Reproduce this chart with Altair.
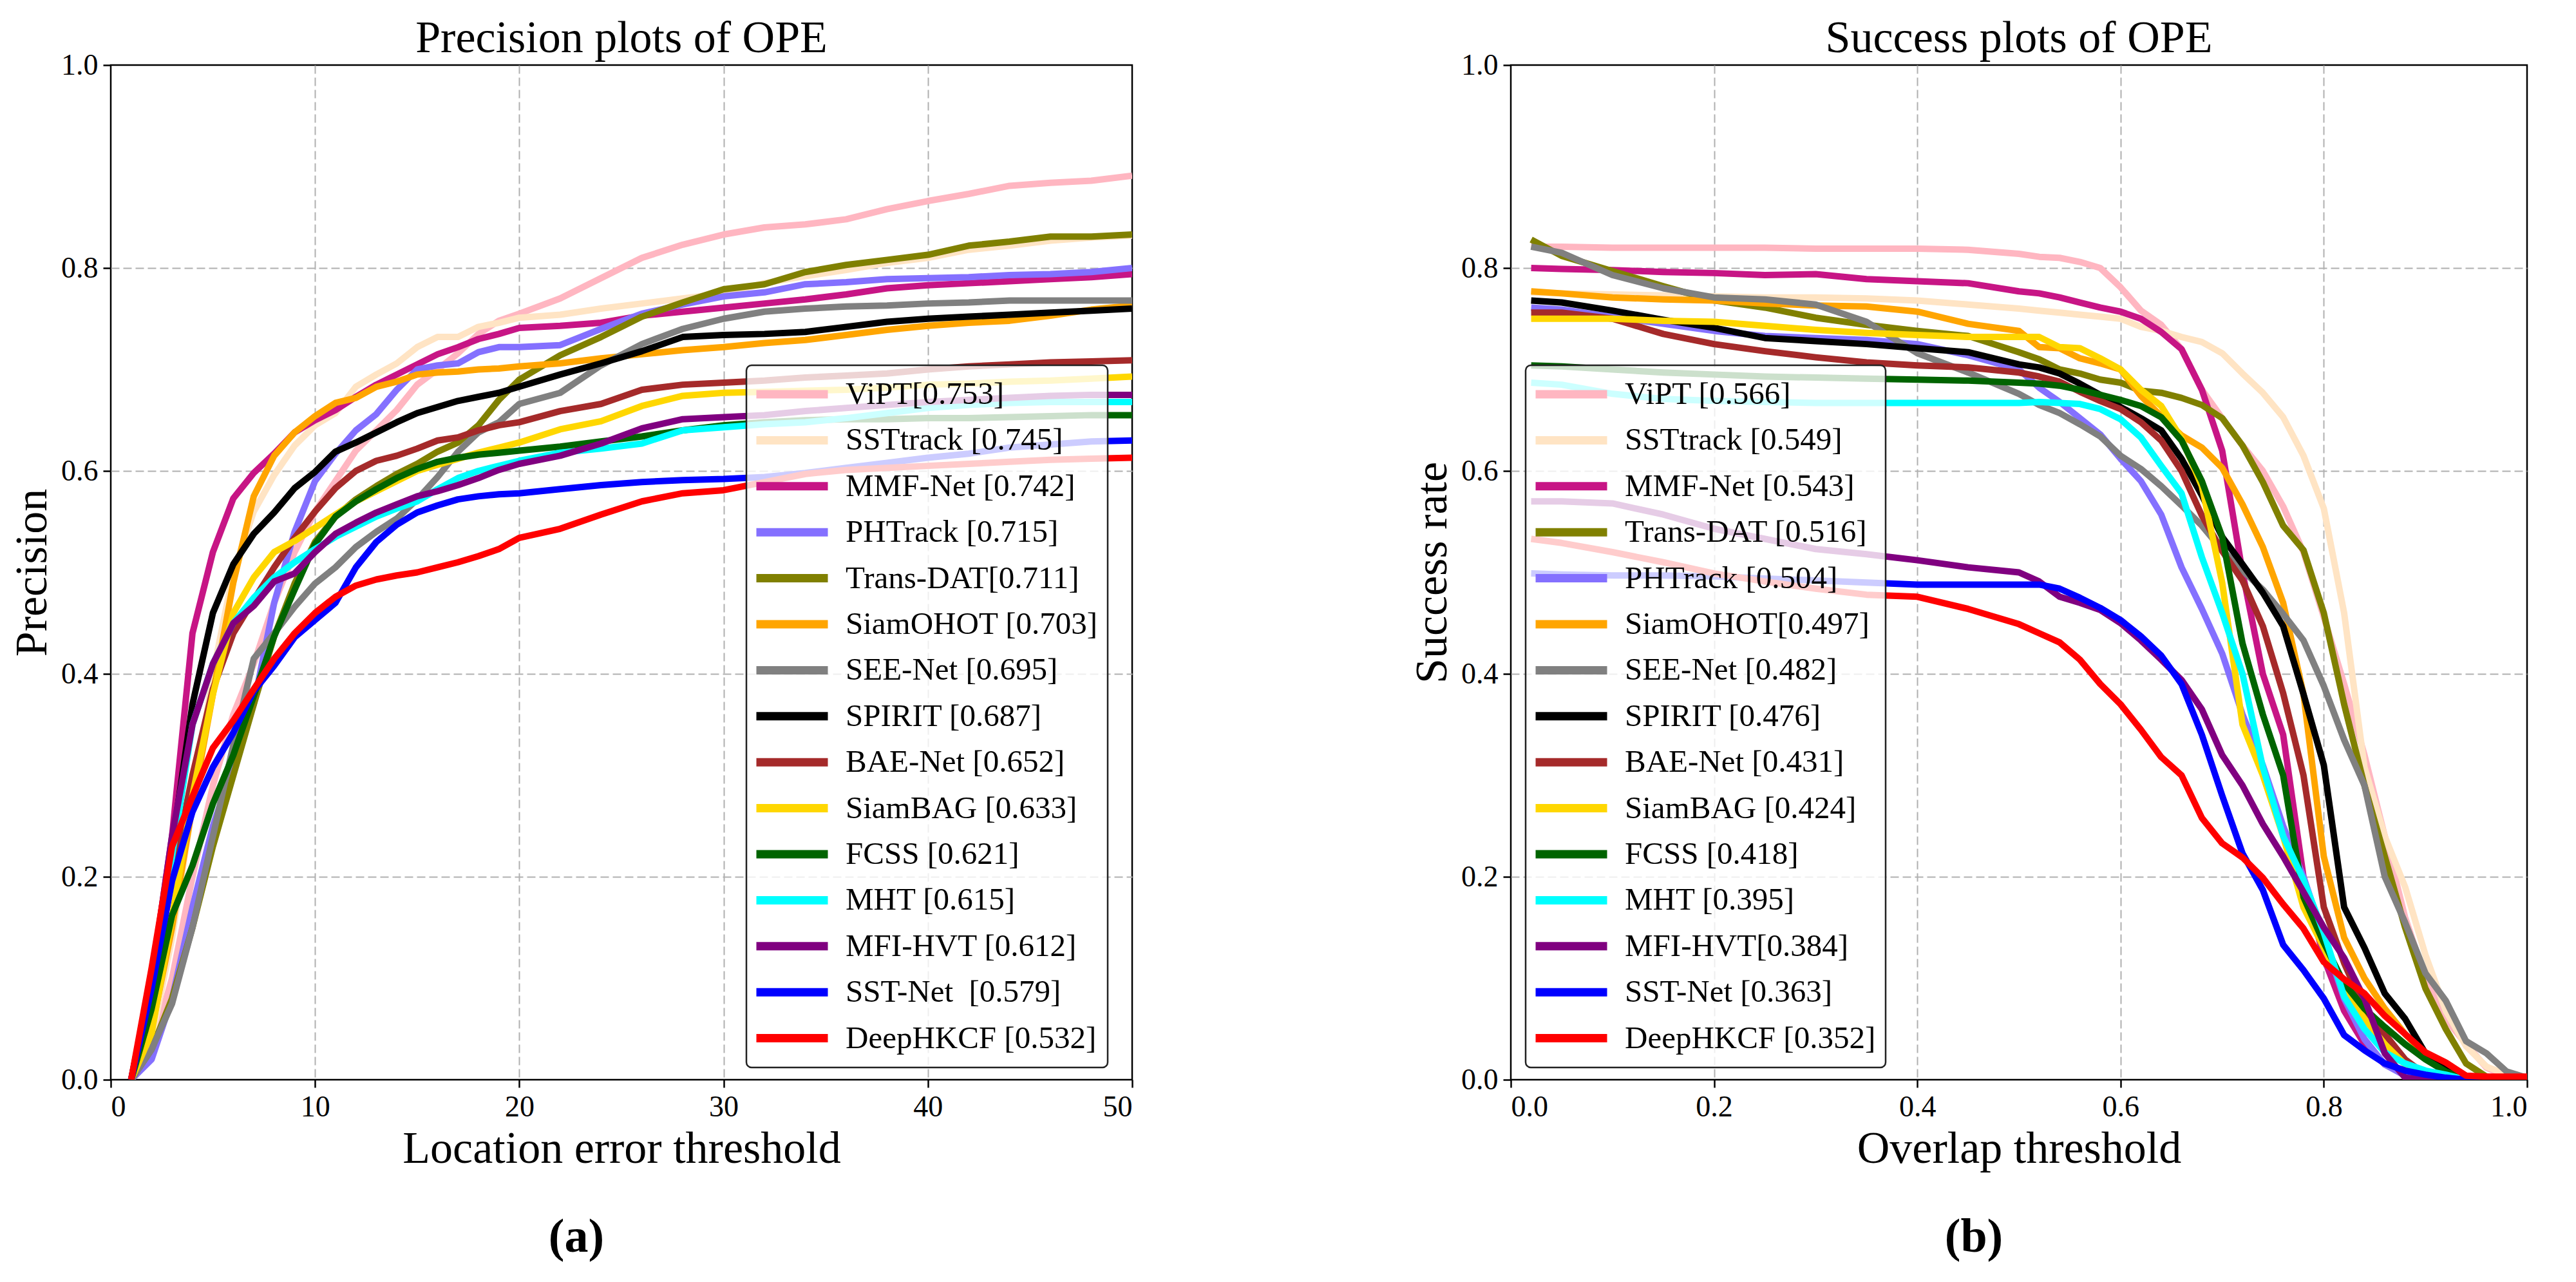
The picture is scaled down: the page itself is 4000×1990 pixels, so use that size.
import altair as alt
import pandas as pd

FONT = "Liberation Serif"

# ---------------- common ----------------
COLOR = {
    "ViPT": "#FFB6C1", "SSTtrack": "#FFE4C4", "MMF-Net": "#C71585", "PHTrack": "#8470FF",
    "Trans-DAT": "#808000", "SiamOHOT": "#FFA500", "SEE-Net": "#808080", "SPIRIT": "#000000",
    "BAE-Net": "#A52A2A", "SiamBAG": "#FFD700", "FCSS": "#006400", "MHT": "#00FFFF",
    "MFI-HVT": "#800080", "SST-Net": "#0000FF", "DeepHKCF": "#FF0000",
}

# ---------------- precision plot ----------------
PREC_ORDER = ["ViPT", "SSTtrack", "MMF-Net", "PHTrack", "Trans-DAT", "SiamOHOT", "SEE-Net",
              "SPIRIT", "BAE-Net", "SiamBAG", "FCSS", "MHT", "MFI-HVT", "SST-Net", "DeepHKCF"]
PREC_LABELS = ["ViPT[0.753]", "SSTtrack [0.745]", "MMF-Net [0.742]", "PHTrack [0.715]",
               "Trans-DAT[0.711]", "SiamOHOT [0.703]", "SEE-Net [0.695]", "SPIRIT [0.687]",
               "BAE-Net [0.652]", "SiamBAG [0.633]", "FCSS [0.621]", "MHT [0.615]",
               "MFI-HVT [0.612]", "SST-Net\u00a0 [0.579]", "DeepHKCF [0.532]"]
PREC_T = [1, 2, 3, 4, 5, 6, 7, 8, 9, 10, 11, 12, 13, 14, 15, 16, 17, 18, 19, 20,
          22, 24, 26, 28, 30, 32, 34, 36, 38, 40, 42, 44, 46, 48, 50]

P_VIPT = [0, 0.03, 0.10, 0.20, 0.29, 0.36, 0.41, 0.47, 0.52, 0.56, 0.59, 0.62, 0.64, 0.66, 0.685, 0.70, 0.716, 0.735, 0.748, 0.755,
          0.77, 0.79, 0.81, 0.823, 0.833, 0.84, 0.843, 0.848, 0.858, 0.866, 0.873, 0.881, 0.884, 0.886, 0.891]
P_SSTT = [0, 0.04, 0.14, 0.27, 0.40, 0.50, 0.56, 0.596, 0.625, 0.645, 0.657, 0.683, 0.695, 0.706, 0.722, 0.732, 0.732, 0.742, 0.746, 0.751,
          0.754, 0.76, 0.765, 0.77, 0.775, 0.785, 0.792, 0.798, 0.805, 0.81, 0.818, 0.822, 0.827, 0.83, 0.832]
P_MMF = [0, 0.10, 0.24, 0.44, 0.52, 0.573, 0.598, 0.617, 0.638, 0.65, 0.66, 0.673, 0.685, 0.695, 0.705, 0.715, 0.722, 0.73, 0.735, 0.741,
         0.743, 0.746, 0.753, 0.757, 0.761, 0.765, 0.769, 0.774, 0.78, 0.783, 0.785, 0.787, 0.789, 0.791, 0.794]
P_PHT = [0, 0.02, 0.08, 0.17, 0.25, 0.31, 0.37, 0.47, 0.54, 0.59, 0.617, 0.64, 0.656, 0.68, 0.70, 0.704, 0.706, 0.717, 0.722, 0.722,
         0.724, 0.74, 0.755, 0.764, 0.772, 0.776, 0.784, 0.786, 0.789, 0.79, 0.791, 0.793, 0.794, 0.796, 0.80]
P_TDAT = [0, 0.03, 0.08, 0.15, 0.23, 0.30, 0.37, 0.437, 0.489, 0.53, 0.555, 0.572, 0.585, 0.597, 0.607, 0.619, 0.628, 0.645, 0.67, 0.69,
          0.714, 0.732, 0.752, 0.766, 0.779, 0.784, 0.796, 0.803, 0.808, 0.813, 0.822, 0.826, 0.831, 0.831, 0.833]
P_OHOT = [0, 0.05, 0.15, 0.27, 0.38, 0.49, 0.575, 0.615, 0.638, 0.654, 0.667, 0.672, 0.683, 0.688, 0.695, 0.697, 0.698, 0.70, 0.701, 0.703,
          0.706, 0.711, 0.715, 0.719, 0.722, 0.726, 0.729, 0.734, 0.739, 0.743, 0.746, 0.748, 0.753, 0.759, 0.763]
P_SEE = [0, 0.03, 0.075, 0.15, 0.24, 0.33, 0.415, 0.44, 0.466, 0.489, 0.505, 0.525, 0.54, 0.553, 0.572, 0.594, 0.619, 0.638, 0.648, 0.666,
         0.677, 0.704, 0.725, 0.74, 0.75, 0.757, 0.76, 0.762, 0.763, 0.765, 0.766, 0.768, 0.768, 0.768, 0.768]
P_SPIRIT = [0, 0.10, 0.23, 0.37, 0.46, 0.508, 0.538, 0.559, 0.583, 0.599, 0.619, 0.628, 0.638, 0.648, 0.657, 0.663, 0.669, 0.673, 0.677, 0.683,
            0.695, 0.706, 0.718, 0.732, 0.734, 0.735, 0.737, 0.742, 0.747, 0.75, 0.752, 0.754, 0.756, 0.758, 0.76]
P_BAE = [0, 0.08, 0.20, 0.30, 0.385, 0.44, 0.473, 0.505, 0.534, 0.56, 0.583, 0.60, 0.61, 0.615, 0.622, 0.63, 0.633, 0.64, 0.645, 0.648,
         0.659, 0.666, 0.68, 0.685, 0.687, 0.689, 0.692, 0.694, 0.696, 0.70, 0.703, 0.705, 0.707, 0.708, 0.709]
P_BAG = [0, 0.046, 0.16, 0.28, 0.38, 0.46, 0.495, 0.52, 0.531, 0.544, 0.557, 0.57, 0.58, 0.59, 0.60, 0.606, 0.612, 0.618, 0.623, 0.628,
         0.641, 0.649, 0.664, 0.674, 0.677, 0.678, 0.679, 0.68, 0.682, 0.685, 0.686, 0.688, 0.689, 0.691, 0.693]
P_FCSS = [0, 0.07, 0.162, 0.211, 0.272, 0.32, 0.378, 0.437, 0.483, 0.528, 0.555, 0.57, 0.582, 0.593, 0.602, 0.609, 0.613, 0.616, 0.618, 0.62,
          0.624, 0.629, 0.634, 0.64, 0.645, 0.648, 0.65, 0.651, 0.651, 0.652, 0.652, 0.653, 0.654, 0.655, 0.655]
P_MHT = [0, 0.10, 0.22, 0.35, 0.41, 0.45, 0.475, 0.495, 0.51, 0.523, 0.535, 0.545, 0.555, 0.563, 0.57, 0.582, 0.593, 0.60, 0.605, 0.61,
         0.618, 0.622, 0.627, 0.64, 0.643, 0.646, 0.648, 0.652, 0.657, 0.662, 0.665, 0.667, 0.668, 0.668, 0.668]
P_MFI = [0, 0.10, 0.24, 0.35, 0.41, 0.45, 0.467, 0.491, 0.499, 0.52, 0.538, 0.549, 0.559, 0.567, 0.575, 0.58, 0.586, 0.593, 0.601, 0.607,
         0.615, 0.627, 0.642, 0.651, 0.653, 0.655, 0.659, 0.662, 0.665, 0.668, 0.67, 0.672, 0.674, 0.675, 0.675]
P_SSTN = [0, 0.09, 0.196, 0.264, 0.308, 0.342, 0.383, 0.408, 0.436, 0.453, 0.47, 0.505, 0.53, 0.547, 0.559, 0.566, 0.572, 0.575, 0.577, 0.578,
          0.582, 0.586, 0.589, 0.591, 0.592, 0.594, 0.598, 0.603, 0.608, 0.613, 0.617, 0.623, 0.626, 0.629, 0.63]
P_DHK = [0, 0.11, 0.23, 0.279, 0.327, 0.354, 0.385, 0.415, 0.44, 0.46, 0.476, 0.487, 0.493, 0.497, 0.50, 0.505, 0.51, 0.516, 0.523, 0.534,
         0.543, 0.557, 0.57, 0.578, 0.581, 0.589, 0.597, 0.601, 0.603, 0.605, 0.607, 0.609, 0.611, 0.612, 0.613]

PREC = {"ViPT": P_VIPT, "SSTtrack": P_SSTT, "MMF-Net": P_MMF, "PHTrack": P_PHT, "Trans-DAT": P_TDAT,
        "SiamOHOT": P_OHOT, "SEE-Net": P_SEE, "SPIRIT": P_SPIRIT, "BAE-Net": P_BAE, "SiamBAG": P_BAG,
        "FCSS": P_FCSS, "MHT": P_MHT, "MFI-HVT": P_MFI, "SST-Net": P_SSTN, "DeepHKCF": P_DHK}

# ---------------- success plot ----------------
SUCC_ORDER = ["ViPT", "SSTtrack", "MMF-Net", "Trans-DAT", "PHTrack", "SiamOHOT", "SEE-Net",
              "SPIRIT", "BAE-Net", "SiamBAG", "FCSS", "MHT", "MFI-HVT", "SST-Net", "DeepHKCF"]
SUCC_LABELS = ["ViPT [0.566]", "SSTtrack [0.549]", "MMF-Net [0.543]", "Trans-DAT [0.516]",
               "PHTrack [0.504]", "SiamOHOT[0.497]", "SEE-Net [0.482]", "SPIRIT [0.476]",
               "BAE-Net [0.431]", "SiamBAG [0.424]", "FCSS [0.418]", "MHT [0.395]",
               "MFI-HVT[0.384]", "SST-Net [0.363]", "DeepHKCF [0.352]"]
SUCC_O = [0.02, 0.05, 0.1, 0.15, 0.2, 0.25, 0.3, 0.35, 0.4, 0.45, 0.5,
          0.52, 0.54, 0.56, 0.58, 0.6, 0.62, 0.64, 0.66, 0.68, 0.7, 0.72, 0.74, 0.76, 0.78,
          0.8, 0.82, 0.84, 0.86, 0.88, 0.9, 0.92, 0.94, 0.96, 0.98, 1.0]

S_VIPT = [0.821, 0.821, 0.82, 0.82, 0.82, 0.82, 0.819, 0.819, 0.819, 0.818, 0.814,
          0.811, 0.81, 0.806, 0.80, 0.781, 0.758, 0.744, 0.72, 0.68, 0.652, 0.625, 0.60, 0.565, 0.52,
          0.456, 0.39, 0.32, 0.24, 0.16, 0.10, 0.06, 0.035, 0.012, 0.003, 0.0]
S_SSTT = [0.776, 0.775, 0.774, 0.773, 0.772, 0.771, 0.771, 0.77, 0.768, 0.764, 0.76,
          0.758, 0.756, 0.754, 0.752, 0.75, 0.742, 0.738, 0.732, 0.727, 0.716, 0.696, 0.677, 0.653, 0.615,
          0.563, 0.46, 0.308, 0.24, 0.19, 0.123, 0.068, 0.033, 0.013, 0.005, 0.002]
S_MMF = [0.80, 0.799, 0.798, 0.796, 0.795, 0.793, 0.794, 0.789, 0.787, 0.785, 0.777,
         0.775, 0.771, 0.766, 0.761, 0.757, 0.75, 0.737, 0.72, 0.68, 0.62, 0.50, 0.40, 0.34, 0.20,
         0.12, 0.068, 0.035, 0.015, 0.005, 0.0, 0.0, 0.0, 0.0, 0.0, 0.0]
S_TDAT = [0.828, 0.812, 0.797, 0.782, 0.768, 0.761, 0.751, 0.744, 0.738, 0.733, 0.717,
          0.71, 0.70, 0.696, 0.69, 0.687, 0.679, 0.677, 0.672, 0.665, 0.652, 0.625, 0.589, 0.546, 0.522,
          0.46, 0.37, 0.29, 0.22, 0.15, 0.09, 0.05, 0.016, 0.003, 0.0, 0.0]
S_PHT = [0.761, 0.759, 0.752, 0.745, 0.738, 0.733, 0.731, 0.729, 0.725, 0.714, 0.70,
         0.682, 0.668, 0.652, 0.636, 0.612, 0.59, 0.557, 0.505, 0.464, 0.42, 0.36, 0.31, 0.25, 0.20,
         0.14, 0.08, 0.04, 0.015, 0.004, 0.0, 0.0, 0.0, 0.0, 0.0, 0.0]
S_OHOT = [0.777, 0.775, 0.771, 0.769, 0.768, 0.765, 0.763, 0.762, 0.757, 0.745, 0.738,
          0.722, 0.721, 0.711, 0.706, 0.70, 0.674, 0.654, 0.635, 0.623, 0.603, 0.567, 0.525, 0.47, 0.38,
          0.22, 0.14, 0.10, 0.07, 0.045, 0.025, 0.01, 0.002, 0.0, 0.0, 0.0]
S_SEE = [0.821, 0.815, 0.793, 0.78, 0.771, 0.769, 0.764, 0.747, 0.716, 0.697, 0.676,
         0.665, 0.657, 0.646, 0.634, 0.615, 0.602, 0.585, 0.566, 0.546, 0.522, 0.502, 0.483, 0.459, 0.433,
         0.388, 0.335, 0.29, 0.20, 0.155, 0.105, 0.078, 0.038, 0.026, 0.008, 0.002]
S_SPIRIT = [0.768, 0.766, 0.758, 0.749, 0.741, 0.731, 0.728, 0.725, 0.721, 0.717, 0.705,
            0.702, 0.696, 0.686, 0.675, 0.663, 0.652, 0.64, 0.612, 0.576, 0.535, 0.508, 0.48, 0.447, 0.38,
            0.31, 0.17, 0.13, 0.085, 0.06, 0.026, 0.012, 0.001, 0.0, 0.0, 0.0]
S_BAE = [0.756, 0.756, 0.75, 0.735, 0.725, 0.718, 0.712, 0.707, 0.704, 0.702, 0.697,
         0.693, 0.688, 0.678, 0.669, 0.661, 0.648, 0.63, 0.60, 0.556, 0.521, 0.492, 0.447, 0.381, 0.30,
         0.17, 0.115, 0.07, 0.045, 0.02, 0.005, 0.0, 0.0, 0.0, 0.0, 0.0]
S_BAG = [0.75, 0.75, 0.75, 0.748, 0.747, 0.743, 0.739, 0.736, 0.734, 0.732, 0.732,
         0.732, 0.722, 0.721, 0.711, 0.70, 0.68, 0.664, 0.632, 0.585, 0.49, 0.35, 0.30, 0.24, 0.17,
         0.13, 0.09, 0.06, 0.035, 0.015, 0.005, 0.0, 0.0, 0.0, 0.0, 0.0]
S_FCSS = [0.704, 0.703, 0.70, 0.697, 0.695, 0.693, 0.692, 0.691, 0.69, 0.689, 0.687,
          0.686, 0.684, 0.68, 0.675, 0.67, 0.664, 0.653, 0.63, 0.59, 0.535, 0.43, 0.36, 0.30, 0.18,
          0.135, 0.095, 0.07, 0.052, 0.035, 0.02, 0.008, 0.001, 0.0, 0.0, 0.0]
S_MHT = [0.687, 0.685, 0.676, 0.671, 0.669, 0.668, 0.667, 0.667, 0.667, 0.667, 0.667,
         0.668, 0.667, 0.666, 0.661, 0.651, 0.633, 0.605, 0.578, 0.515, 0.46, 0.40, 0.308, 0.24, 0.197,
         0.145, 0.082, 0.05, 0.027, 0.016, 0.009, 0.005, 0.0, 0.0, 0.0, 0.0]
S_MFI = [0.57, 0.57, 0.568, 0.557, 0.543, 0.533, 0.523, 0.518, 0.512, 0.505, 0.50,
         0.491, 0.476, 0.47, 0.463, 0.45, 0.433, 0.414, 0.394, 0.365, 0.32, 0.29, 0.252, 0.22, 0.185,
         0.15, 0.12, 0.08, 0.026, 0.002, 0.0, 0.0, 0.0, 0.0, 0.0, 0.0]
S_SSTN = [0.499, 0.498, 0.497, 0.497, 0.496, 0.494, 0.492, 0.49, 0.488, 0.488, 0.488,
          0.488, 0.484, 0.475, 0.465, 0.453, 0.437, 0.418, 0.39, 0.34, 0.28, 0.223, 0.187, 0.133, 0.108,
          0.08, 0.044, 0.029, 0.016, 0.009, 0.005, 0.002, 0.0, 0.0, 0.0, 0.0]
S_DHK = [0.533, 0.529, 0.52, 0.51, 0.499, 0.491, 0.484, 0.478, 0.476, 0.464, 0.449,
         0.44, 0.431, 0.414, 0.39, 0.37, 0.345, 0.318, 0.30, 0.258, 0.233, 0.219, 0.199, 0.173, 0.149,
         0.116, 0.099, 0.085, 0.063, 0.045, 0.027, 0.017, 0.004, 0.003, 0.003, 0.003]

SUCC = {"ViPT": S_VIPT, "SSTtrack": S_SSTT, "MMF-Net": S_MMF, "Trans-DAT": S_TDAT, "PHTrack": S_PHT,
        "SiamOHOT": S_OHOT, "SEE-Net": S_SEE, "SPIRIT": S_SPIRIT, "BAE-Net": S_BAE, "SiamBAG": S_BAG,
        "FCSS": S_FCSS, "MHT": S_MHT, "MFI-HVT": S_MFI, "SST-Net": S_SSTN, "DeepHKCF": S_DHK}

X_TICKS_P = [0, 10, 20, 30, 40, 50]
X_TICKS_S = [0.0, 0.2, 0.4, 0.6, 0.8, 1.0]
Y_TICKS = [0.0, 0.2, 0.4, 0.6, 0.8, 1.0]

H = 1575
GRID = "#b0b0b0"


def grid_color(lo, hi):
    return {"condition": {"test": f"datum.value <= {lo} || datum.value >= {hi}",
                          "value": "rgba(0,0,0,0)"}, "value": GRID}


def panel(xs, data, order, labels, xdom, xticks, xfmt, xtitle, ytitle, title, W, legx, caption):
    rows = []
    for name, lab in zip(order, labels):
        for x, y in zip(xs, data[name]):
            rows.append({"series": lab, "x": x, "y": y})
    df = pd.DataFrame(rows)
    cscale = alt.Scale(domain=labels, range=[COLOR[n] for n in order])
    legend = alt.Legend(
        title=None, orient="none", legendX=legx, legendY=466,
        symbolType="stroke", symbolSize=12321, symbolStrokeWidth=13, symbolOpacity=1,
        symbolOffset=-6, clipHeight=60, rowPadding=11.4, padding=15, labelOffset=21,
        labelFont=FONT, labelFontSize=49, labelColor="black", labelLimit=800,
        fillColor="rgba(255,255,255,0.8)", strokeColor="#222222", cornerRadius=8,
    )
    xenc = alt.X("x:Q", scale=alt.Scale(domain=xdom, nice=False, zero=False),
                 axis=alt.Axis(values=xticks, format=xfmt, title=xtitle,
                               gridColor=grid_color(xdom[0], xdom[1])))
    yenc = alt.Y("y:Q", scale=alt.Scale(domain=[0, 1], nice=False),
                 axis=alt.Axis(values=Y_TICKS, format=".1f", title=ytitle,
                               gridColor=grid_color(0, 1)))
    layers = []
    for lab in labels:
        layers.append(
            alt.Chart(df).transform_filter(alt.FieldEqualPredicate(field="series", equal=lab))
            .mark_line(strokeWidth=10, strokeJoin="round", clip=True)
            .encode(x=xenc, y=yenc,
                    color=alt.Color("series:N", scale=cscale, legend=legend))
        )
    cap = alt.Chart(pd.DataFrame({"t": [caption]})).mark_text(
        font=FONT, fontSize=74, fontWeight="bold", color="black"
    ).encode(x=alt.value(W / 2 - 70), y=alt.value(H + 245), text="t:N")
    layers.append(cap)
    return alt.layer(*layers).properties(
        width=W, height=H,
        title=alt.TitleParams(title, font=FONT, fontSize=70, fontWeight="normal",
                              color="black", anchor="middle", frame="group", offset=-18),
    )


left = panel(PREC_T, PREC, PREC_ORDER, PREC_LABELS, [0, 50], X_TICKS_P, "d",
             "Location error threshold", "Precision", "Precision plots of OPE", 1586, 987, "(a)")
right = panel(SUCC_O, SUCC, SUCC_ORDER, SUCC_LABELS, [0, 1], X_TICKS_S, ".1f",
              "Overlap threshold", "Success rate", "Success plots of OPE", 1578, 23, "(b)")

chart = alt.hconcat(left, right, spacing=427).resolve_scale(color="independent").properties(
    padding={"left": 6, "top": 15, "right": 0, "bottom": 0}
).configure(background="white").configure_view(stroke="black", strokeWidth=2.5).configure_axis(
    labelFont=FONT, labelFontSize=46, labelColor="black",
    titleFont=FONT, titleFontSize=70, titleFontWeight="normal", titleColor="black",
    tickColor="black", tickWidth=2.5, tickSize=12, domain=False,
    grid=True, gridDash=[13, 6], gridWidth=2, labelPadding=8, titlePadding=8,
).configure_legend(strokeWidth=2.5)

chart.save("out.html", embed_options={"renderer": "svg", "actions": False})
